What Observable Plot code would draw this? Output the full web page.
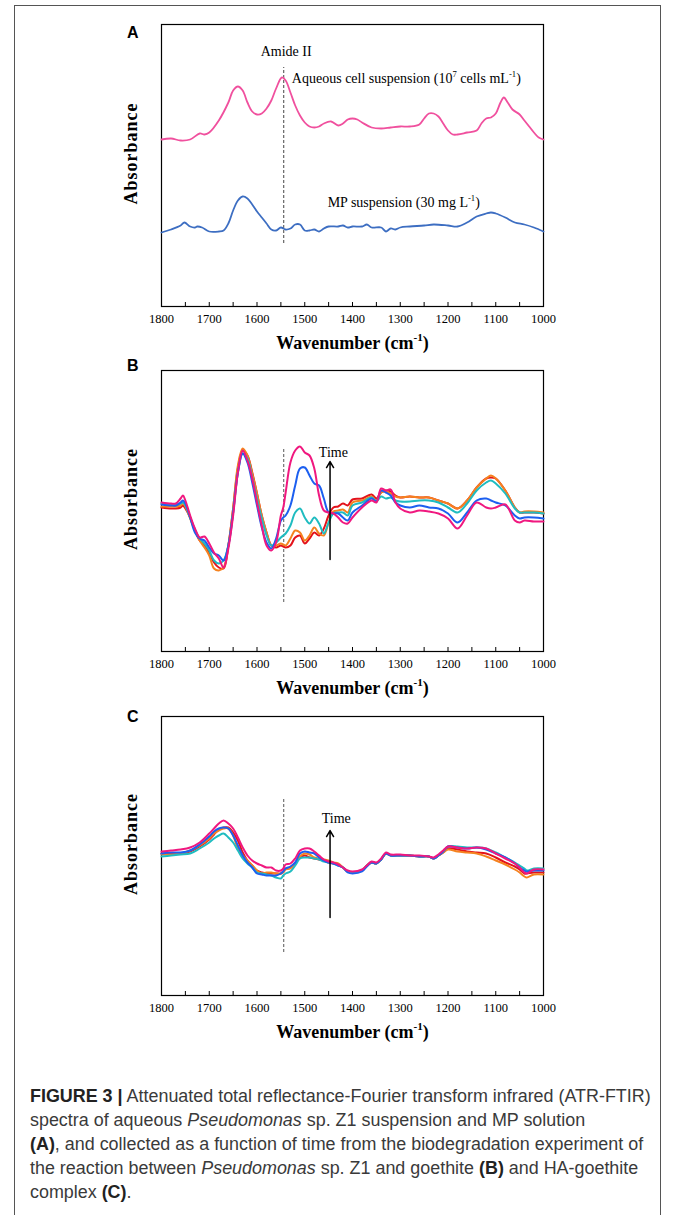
<!DOCTYPE html>
<html><head><meta charset="utf-8">
<script src="https://cdn.jsdelivr.net/npm/d3@7"></script>
<script src="https://cdn.jsdelivr.net/npm/@observablehq/plot@0.6"></script>
<style>
html,body{margin:0;padding:0;background:#fff;}
#page{position:relative;width:673px;height:1215px;overflow:hidden;background:#fff;}
#border{position:absolute;left:14px;top:5px;width:647px;height:1230px;border:1px solid #555;border-bottom:none;box-sizing:border-box;}
.panel{position:absolute;left:0;}
.panel svg{overflow:visible;}
.letter{position:absolute;left:127px;font:bold 16px/16px "Liberation Sans",Arial,sans-serif;color:#000;}
#cap{position:absolute;left:30px;top:1084px;font-family:"Liberation Sans",Arial,sans-serif;font-size:16px;line-height:24px;color:#3a3a3a;white-space:nowrap;}
#cap b{color:#222;}
</style></head>
<body>
<div id="page">
  <div id="border"></div>
  <div class="panel" id="pA" style="top:0px"></div>
  <div class="panel" id="pB" style="top:355px"></div>
  <div class="panel" id="pC" style="top:705px"></div>
  <div class="letter" style="top:25px">A</div>
  <div class="letter" style="top:358px">B</div>
  <div class="letter" style="top:709px">C</div>
  <div id="cap"><span id="l1"><b>FIGURE 3 |</b> Attenuated total reflectance-Fourier transform infrared (ATR-FTIR)</span><br>spectra of aqueous <i>Pseudomonas</i> sp. Z1 suspension and MP solution<br><b>(A)</b>, and collected as a function of time from the biodegradation experiment of<br>the reaction between <i>Pseudomonas</i> sp. Z1 and goethite <b>(B)</b> and HA-goethite<br>complex <b>(C)</b>.</div>
</div>
<script>
// ---------------- DATA ----------------
const xTicks = [1000,1050,1100,1150,1200,1250,1300,1350,1400,1450,1500,1550,1600,1650,1700,1750,1800];
const xTitle = "Wavenumber (cm^{-1})";
const yTitle = "Absorbance";
const amideII = 1544;

// Panel A (arbitrary absorbance units)
const wnCells = [1800,1780,1760,1740,1720,1710,1700,1680,1660,1650,1640,1630,1620,1610,1600,1590,1580,1570,1560,1548,1540,1530,1520,1510,1500,1490,1480,1470,1460,1445,1430,1420,1410,1400,1390,1380,1360,1340,1320,1300,1280,1260,1250,1240,1230,1220,1210,1200,1190,1180,1160,1140,1130,1120,1110,1100,1090,1083,1075,1065,1050,1040,1030,1020,1010,1000];
const absCells = [167,168,166,167,173,172,174,186,204,216,220,216,204,195,192,193,198,206,218,229,226,214,201,191,184,180,179,180,183,185,181,183,187,188,187,184,179,178,179,180,180,182,188,193,193,190,183,176,172,172,174,176,183,188,189,193,204,209,204,197,192,186,180,174,169,167];
const wnMP = [1800,1780,1760,1752,1740,1730,1725,1715,1700,1680,1670,1660,1650,1640,1630,1620,1610,1600,1590,1580,1570,1560,1550,1540,1530,1520,1510,1500,1490,1480,1470,1460,1450,1430,1420,1410,1400,1380,1370,1360,1340,1330,1320,1310,1300,1280,1250,1230,1200,1180,1160,1140,1120,1110,1100,1080,1060,1040,1020,1000];
const absMP = [74,77,81,84,80,79,80,79,75,75,76,83,96,106,110,108,102,95,89,83,77,76,79,77,78,82,82,76,76,77,75,78,80,80,81,79,80,80,82,79,79,75,78,77,79,80,81,82,81,80,84,90,93,94,93,89,84,82,79,75];
const amideLabel = "Amide II";
const amideLabelPos = [1539, 255];
const seriesLabelsA = ["Aqueous cell suspension (10^{7} cells mL^{-1})", "MP suspension (30 mg L^{-1})"];
const seriesLabelWnA = [1527, 1452];
const seriesLabelAbsA = [228, 104];
const dashA = [63, 239];
const yMaxA = 282;

// Panel B (time series, earliest to latest)
const wnB = [1800,1780,1770,1760,1755,1750,1740,1730,1720,1710,1700,1690,1680,1670,1660,1650,1640,1630,1620,1610,1600,1590,1580,1570,1560,1550,1545,1540,1530,1520,1510,1500,1490,1480,1470,1460,1450,1440,1430,1420,1410,1400,1380,1360,1350,1340,1330,1320,1310,1300,1280,1260,1240,1220,1200,1180,1160,1140,1120,1110,1100,1080,1060,1050,1040,1020,1000];
const bT1 = [144,143,143,144,146,143,134,121,111,106,99,89,84,83,106,143,183,201,196,179,158,136,119,106,104,106,105,104,106,114,116,108,113,119,116,123,136,144,145,148,146,152,153,157,153,159,161,160,156,154,155,154,154,151,148,143,151,164,173,174,173,161,144,139,139,139,138];
const bT2 = [145,145,145,146,148,145,133,121,111,104,96,83,81,84,106,143,186,203,196,178,158,136,119,106,106,108,107,106,113,121,119,111,116,124,118,116,129,140,141,142,139,149,151,155,151,159,160,158,155,154,155,154,154,151,148,143,151,164,173,176,173,161,144,139,140,140,139];
const bT3 = [148,147,147,148,149,146,134,122,113,108,101,91,88,91,106,139,179,198,193,174,153,133,116,106,109,114,116,118,126,139,143,134,128,134,128,118,129,138,139,139,136,146,149,154,150,155,153,154,151,150,150,151,151,149,144,139,148,161,169,171,168,158,143,139,139,139,138];
const bT4 = [147,146,146,149,151,148,134,119,113,111,104,98,96,91,106,139,179,198,189,169,146,124,109,103,113,131,134,136,146,166,183,184,176,168,166,153,139,138,138,134,131,139,146,153,150,161,159,156,149,146,144,146,144,143,138,129,139,151,153,151,149,146,136,133,134,134,133];
const bT5 = [149,148,148,153,156,151,136,123,114,115,108,99,93,84,103,136,179,201,191,173,149,126,106,101,109,136,144,159,189,201,205,199,196,183,156,141,139,138,134,129,128,134,144,151,149,163,161,162,149,143,139,141,140,138,133,123,136,149,144,143,144,147,131,129,131,130,130];
const dashB = [49, 203];
const arrowB = [1447, 92, 190];
const timeB = [1440, 199];
const yMaxB = 281;

// Panel C (time series, earliest to latest)
const wnC = [1800,1780,1760,1740,1720,1700,1690,1680,1670,1660,1650,1640,1630,1620,1610,1600,1590,1580,1570,1560,1550,1545,1540,1530,1520,1510,1500,1490,1480,1470,1460,1450,1440,1430,1420,1410,1400,1380,1370,1360,1350,1340,1330,1320,1300,1280,1260,1240,1230,1220,1210,1200,1180,1160,1140,1120,1100,1080,1060,1050,1040,1035,1020,1000];
const cT1 = [142,142,142,144,149,156,161,166,168,168,163,155,143,135,130,125,123,122,122,122,122,124,127,128,132,138,140,138,137,136,135,133,132,131,128,124,123,125,130,133,132,136,142,140,140,140,139,139,137,140,143,147,146,144,143,142,138,133,129,126,122,122,123,123];
const cT2 = [141,141,142,145,150,157,162,165,167,167,160,147,140,135,130,125,122,123,123,122,122,123,126,127,132,139,142,141,138,137,136,135,133,132,128,124,123,125,130,133,132,136,142,140,140,140,139,139,137,140,143,146,144,143,142,139,135,131,126,123,119,118,121,121];
const cT3 = [139,140,141,142,147,153,157,160,162,158,153,145,137,132,128,123,122,121,120,118,117,120,122,124,130,137,138,138,137,136,134,133,132,130,128,124,123,125,130,133,132,136,142,140,140,140,139,139,137,140,144,149,149,148,148,147,143,138,133,130,127,125,127,127];
const cT4 = [142,143,143,145,151,159,164,167,168,167,160,150,140,133,128,122,121,120,120,120,122,124,127,129,133,142,144,143,142,138,135,133,132,130,128,123,122,124,129,133,132,136,142,140,140,140,139,139,137,140,144,149,148,147,148,146,142,138,132,128,125,124,125,125];
const cT5 = [144,145,146,148,153,162,167,172,175,172,167,158,148,140,135,132,130,128,128,125,125,127,131,132,137,145,147,147,144,140,136,134,133,131,128,125,124,126,130,134,133,137,143,141,141,140,140,139,138,141,145,149,148,147,148,147,142,137,132,128,123,122,126,126];
const dashC = [43, 197];
const arrowC = [1447, 78, 165];
const timeC = [1434, 177];
const yMaxC = 279;

const seriesNames = ["t1","t2","t3","t4","t5"];
const seriesColors = ["#e3121b","#f5821f","#1fbcc0","#1c5ff0","#f0187f"];

// ---------------- HELPERS ----------------
function check(w, ...arrs){ arrs.forEach((a,i)=>{ if(a.length!==w.length) throw new Error("length mismatch "+i+": "+a.length+" vs "+w.length); }); }
check(wnCells, absCells); check(wnMP, absMP);
check(wnB, bT1, bT2, bT3, bT4, bT5); check(wnC, cT1, cT2, cT3, cT4, cT5);

const toRows = (w, a) => w.map((x, i) => ({w: x, a: a[i]}));
const toLong = (w, arrs) => arrs.flatMap((a, k) => w.map((x, i) => ({w: x, a: a[i], s: seriesNames[k]})));

const SERIF = '"Liberation Serif","Times New Roman",serif';
const TICK_LEN = 4;

function baseMarks(frameH){
  return [
    Plot.ruleX(xTicks, {x: d => d, stroke: "#000", strokeWidth: 1, insetTop: frameH - TICK_LEN}),
    Plot.frame({stroke: "#000", strokeWidth: 1.2}),
    Plot.axisX(xTicks, {anchor: "bottom", tickSize: 0, tickPadding: 8, tickFormat: d => d % 100 === 0 ? String(d) : "", label: null, fontSize: 12.5}),
    Plot.text([xTitle], {frameAnchor: "bottom", dy: 42, text: d => d, fontWeight: "bold", fontSize: 18, textAnchor: "middle"}),
    Plot.text([yTitle], {frameAnchor: "left", dx: -30, dy: -12, rotate: -90, text: d => d, fontWeight: "bold", fontSize: 18, textAnchor: "middle", className: "ytitle"})
  ];
}
function common(h, mt, mb, yMax){
  return {
    width: 673, height: h, marginLeft: 161, marginRight: 130, marginTop: mt, marginBottom: mb,
    x: {domain: [1800, 1000]},
    y: {domain: [0, yMax], axis: null},
    style: {fontFamily: SERIF, fontSize: "12.5px", color: "#000", background: "transparent", overflow: "visible"}
  };
}

function applySup(svg){
  svg.querySelectorAll("text").forEach(t => {
    const s = t.textContent;
    if (!s.includes("^{")) return;
    const fs = parseFloat(getComputedStyle(t).fontSize) || 14;
    t.textContent = "";
    const parts = s.split(/(\^\{[^}]*\})/).filter(p => p);
    let raised = false;
    for (const p of parts) {
      const ts = document.createElementNS("http://www.w3.org/2000/svg", "tspan");
      if (p.startsWith("^{")) {
        ts.textContent = p.slice(2, -1);
        ts.setAttribute("font-size", (fs * 0.62) + "px");
        ts.setAttribute("dy", (-0.42 * fs) + "");
        raised = true;
      } else {
        ts.textContent = p;
        if (raised) { ts.setAttribute("dy", (0.42 * fs) + ""); raised = false; }
      }
      t.appendChild(ts);
    }
  });
  svg.querySelectorAll(".ytitle text, g.ytitle text").forEach(t => t.setAttribute("letter-spacing", "1"));
}

// ---------------- PANEL A ----------------
const frameA = 355 - 24 - 49;
const plotA = Plot.plot({
  ...common(355, 24, 49, yMaxA),
  marks: [
    ...baseMarks(frameA),
    Plot.ruleX([amideII], {y1: dashA[0], y2: dashA[1], stroke: "#444", strokeWidth: 1, strokeDasharray: "3,2"}),
    Plot.line(toRows(wnCells, absCells), {x: "w", y: "a", stroke: "#f0509e", strokeWidth: 1.8, curve: "catmull-rom"}),
    Plot.line(toRows(wnMP, absMP), {x: "w", y: "a", stroke: "#3d6ec2", strokeWidth: 1.8, curve: "catmull-rom"}),
    Plot.text([amideLabel], {x: () => amideLabelPos[0], y: () => amideLabelPos[1], text: d => d, textAnchor: "middle", fontSize: 14}),
    Plot.text(seriesLabelsA, {x: (d, i) => seriesLabelWnA[i], y: (d, i) => seriesLabelAbsA[i], text: d => d, textAnchor: "start", fontSize: 14})
  ]
});

// ---------------- PANEL B / C ----------------
function timePanel(h, mt, mb, yMax, wn, arrs, dash, arrow, timeLbl){
  return Plot.plot({
    ...common(h, mt, mb, yMax),
    color: {domain: seriesNames, range: seriesColors},
    marks: [
      ...baseMarks(h - mt - mb),
      Plot.ruleX([amideII], {y1: dash[0], y2: dash[1], stroke: "#555", strokeWidth: 1, strokeDasharray: "3,2"}),
      Plot.line(toLong(wn, arrs), {x: "w", y: "a", z: "s", stroke: "s", strokeWidth: 2, curve: "catmull-rom"}),
      Plot.arrow([arrow], {x1: d => d[0], x2: d => d[0], y1: d => d[1], y2: d => d[2], stroke: "#000", strokeWidth: 1.5, headLength: 7}),
      Plot.text(["Time"], {x: () => timeLbl[0], y: () => timeLbl[1], text: d => d, textAnchor: "middle", fontSize: 14})
    ]
  });
}
const plotB = timePanel(350, 15, 54, yMaxB, wnB, [bT1, bT2, bT3, bT4, bT5], dashB, arrowB, timeB);
const plotC = timePanel(350, 11, 60, yMaxC, wnC, [cT1, cT2, cT3, cT4, cT5], dashC, arrowC, timeC);

document.getElementById("pA").appendChild(plotA);
document.getElementById("pB").appendChild(plotB);
document.getElementById("pC").appendChild(plotC);
[plotA, plotB, plotC].forEach(applySup);

// fit caption to reference line width
const cap = document.getElementById("cap");
const l1w = document.getElementById("l1").getBoundingClientRect().width;
cap.style.fontSize = (16 * 621 / l1w) + "px";
</script>
</body></html>
